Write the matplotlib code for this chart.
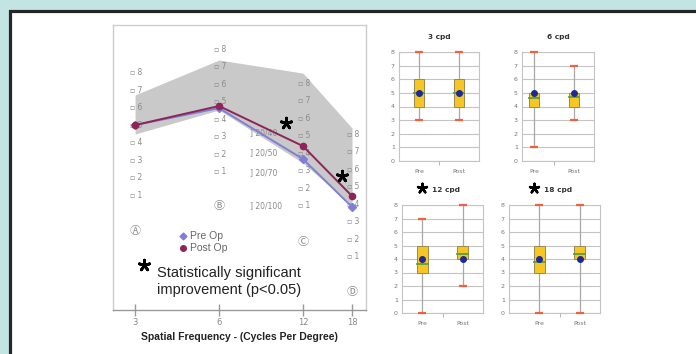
import matplotlib
matplotlib.use("Agg")
import matplotlib.pyplot as plt
from matplotlib.patches import Rectangle
import numpy as np

# ---------------- data ----------------
freqs = [3, 6, 12, 18]
freq_labels = ["3", "6", "12", "18"]
pre_op = [10.57, 11.54, 8.63, 5.89]
post_op = [10.57, 11.66, 9.37, 6.51]
norm_upper = [12.29, 14.29, 13.54, 10.40]
norm_lower = [10.06, 11.43, 8.40, 6.00]
patch_base = [5.57, 6.9, 4.95, 2.05]        # chart row position of patch "0" per column
patch_numbers = [1, 2, 3, 4, 5, 6, 7, 8]
column_letters = ["\u24b6", "\u24b7", "\u24b8", "\u24b9"]
column_letter_y = [4.51, 5.94, 3.89, 1.03]
snellen_labels = ["] 20/40", "] 20/50", "] 20/70", "] 20/100"]
snellen_y = [10.11, 8.97, 7.83, 5.94]
sig_star_x = [10.45, 16.6]
sig_star_y = [10.69, 7.66]

box_titles = ["3 cpd", "6 cpd", "12 cpd", "18 cpd"]
box_significant = [False, False, True, True]
groups = ["Pre", "Post"]
box_min = [[3, 3], [1, 3], [0, 2], [0, 0]]
box_q1 = [[4, 4], [4, 4], [3, 4], [3, 4]]
box_median = [[5, 5], [4.6, 4.7], [3.65, 4.4], [3.8, 4.4]]
box_q3 = [[6, 6], [5, 5], [5, 5], [5, 5]]
box_max = [[8, 8], [8, 7], [7, 8], [8, 8]]
box_mean = [[5, 5], [5, 5], [4, 4], [4, 4]]

# ---------------- figure ----------------
W, H = 696, 354
fig = plt.figure(figsize=(W / 100, H / 100), dpi=100)
fig.patch.set_facecolor("#c2e4e3")
frame = Rectangle((9.5 / W, -0.1), 1.2, (H - 11) / H + 0.1, transform=fig.transFigure,
                  facecolor="white", edgecolor="#262626", linewidth=2.3, zorder=-10)
fig.patches.append(frame)

def fx(px):
    return px / W

def fy(py):
    return 1 - py / H

# ---------------- main chart ----------------
ax = fig.add_axes([fx(113), fy(310), fx(366) - fx(113), fy(25) - fy(310)])
ax.patch.set_alpha(0)
ax.set_xscale("log")
ax.set_xlim(2.5, 20.2)
ax.set_ylim(0, 16.29)
ax.fill_between(freqs, norm_lower, norm_upper, color="#c9c9c9", linewidth=0, zorder=1)
ax.plot(freqs, pre_op, color="#7f7fd6", lw=1.4, marker="D", ms=4, zorder=4)
ax.plot(freqs, post_op, color="#8e2457", lw=1.4, marker="o", ms=4.5, zorder=5)

grey = "#8a8a8a"
for x, base in zip(freqs, patch_base):
    for k in patch_numbers:
        ax.annotate("\u25ab " + str(k), xy=(x, base + k), xytext=(-3.5, 0),
                    textcoords="offset points", ha="left", va="center",
                    fontsize=5.5, color=grey, zorder=2)
for x, lab, y in zip(freqs, column_letters, column_letter_y):
    ax.text(x, y, lab, ha="center", va="center", fontsize=8, color=grey, zorder=2,
            family=["Noto Sans CJK JP", "DejaVu Sans"])
for lab, y in zip(snellen_labels, snellen_y):
    ax.text(7.75, y, lab, ha="left", va="center", fontsize=5.5, color=grey, zorder=2)

ax.scatter(sig_star_x, sig_star_y, marker=(5, 2, 0), s=60, linewidths=2.0,
           color="black", zorder=6)

# legend
ax.plot([4.46], [4.23], marker="D", ms=3.5, color="#7f7fd6", ls="none")
ax.plot([4.46], [3.54], marker="o", ms=4, color="#8e2457", ls="none")
ax.text(4.72, 4.23, "Pre Op", fontsize=7.5, color="#666666", va="center", ha="left",
        family="Liberation Sans")
ax.text(4.72, 3.54, "Post Op", fontsize=7.5, color="#666666", va="center", ha="left",
        family="Liberation Sans")
ax.scatter([3.23], [2.57], marker=(5, 2, 0), s=60, linewidths=2.0, color="black", zorder=6)
ax.text(3.6, 1.63, "Statistically significant\nimprovement (p<0.05)", fontsize=10.5,
        color="#222222", va="center", ha="left", linespacing=1.2,
        family="Liberation Sans")

ax.set_xticks(freqs)
ax.set_xticklabels(freq_labels)
ax.minorticks_off()
ax.set_yticks([])
ax.tick_params(axis="x", direction="inout", length=8, width=1, color="#999999",
               labelsize=6, labelcolor="#888888", pad=2)
for side in ["left", "top", "right"]:
    ax.spines[side].set_color("#cccccc")
    ax.spines[side].set_linewidth(1.0)
ax.spines["bottom"].set_color("#999999")
ax.spines["bottom"].set_linewidth(1.0)
ax.set_xlabel("Spatial Frequency - (Cycles Per Degree)", fontsize=7.5, fontweight="bold",
              color="#222222", labelpad=3, family="Liberation Sans")

# ---------------- box plots ----------------
box_axes = [
    (399, 479, 52, 161, 0.5),
    (522, 594, 52, 161, 0.7),
    (402, 483, 205, 313, 0.5),
    (509, 600, 205, 313, 0.25),
]
for i, (l, r, t, b, xleft) in enumerate(box_axes):
    bax = fig.add_axes([fx(l), fy(b), fx(r) - fx(l), fy(t) - fy(b)])
    bax.set_xlim(xleft, 2.5)
    bax.set_ylim(0, 8)
    bax.set_yticks(range(9))
    bax.grid(axis="y", color="#c4c4c4", lw=0.8)
    bax.set_axisbelow(True)
    for s in bax.spines.values():
        s.set_color("#c4c4c4")
        s.set_linewidth(0.8)
    bax.set_xticks([1, 2])
    bax.set_xticklabels(groups)
    bax.set_xticks([1.5], minor=True)
    bax.tick_params(axis="both", which="major", length=0, labelsize=4.5,
                    labelcolor="#777777", pad=3)
    bax.tick_params(axis="x", which="minor", length=3, color="#aaaaaa")
    bax.tick_params(axis="x", which="major", pad=6)
    for j in range(2):
        pos = j + 1
        bw = 0.27
        bax.plot([pos, pos], [box_min[i][j], box_max[i][j]], color="#a8a8a8", lw=0.9, zorder=2)
        bax.add_patch(Rectangle((pos - bw / 2, box_q1[i][j]), bw,
                                box_q3[i][j] - box_q1[i][j], facecolor="#f6c623",
                                edgecolor="#9a8a50", lw=0.7, zorder=3))
        for v in (box_min[i][j], box_max[i][j]):
            bax.plot([pos - 0.1, pos + 0.1], [v, v], color="#f2603f", lw=1.6,
                     solid_capstyle="butt", zorder=4, clip_on=False)
        bax.plot([pos - bw / 2, pos + bw / 2], [box_median[i][j]] * 2, color="#5aa03a",
                 lw=1.3, zorder=4)
        bax.plot([pos], [box_mean[i][j]], marker="o", ms=4, color="#1c2a96", zorder=5)
    cx = (xleft + 2.5) / 2
    bax.text(cx + (0.08 if box_significant[i] else 0), 8.9, box_titles[i],
             ha="center", va="bottom", fontsize=5.3, fontweight="bold", color="#333333")
    if box_significant[i]:
        bax.scatter([cx - 0.5], [9.25], marker=(5, 2, 0), s=45,
                    linewidths=1.8, color="black", clip_on=False, zorder=6)

fig.savefig("out.png", dpi=100, facecolor=fig.get_facecolor())
